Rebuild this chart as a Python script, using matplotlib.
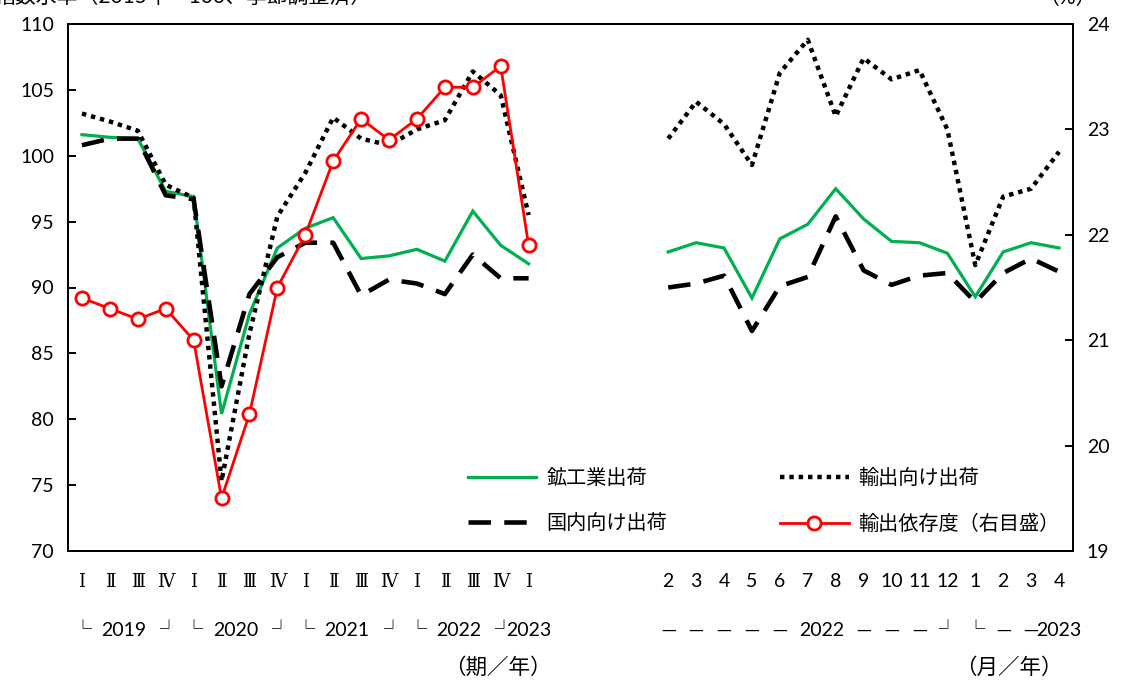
import numpy as np
import matplotlib
matplotlib.use("Agg")
import matplotlib.pyplot as plt
from matplotlib.lines import Line2D

plt.rcParams['font.family'] = ['Lato', 'Noto Sans CJK JP', 'DejaVu Sans']

# ---- data ----
quarter_labels = ['Ⅰ', 'Ⅱ', 'Ⅲ', 'Ⅳ'] * 4 + ['Ⅰ']
quarter_years = ['2019', '2020', '2021', '2022']
month_labels = ['2', '3', '4', '5', '6', '7', '8', '9', '10', '11', '12', '1', '2', '3', '4']

mining_q = [101.6, 101.4, 101.3, 97.3, 96.9, 80.4, 88.0, 93.0, 94.5, 95.3, 92.2, 92.4, 92.9, 92.0, 95.8, 93.2, 91.8]
domestic_q = [100.8, 101.3, 101.3, 97.0, 96.7, 82.5, 89.5, 92.3, 93.4, 93.4, 89.4, 90.6, 90.3, 89.5, 92.5, 90.7, 90.7]
export_q = [103.2, 102.6, 101.9, 97.8, 96.8, 75.3, 86.5, 95.4, 98.7, 102.9, 101.3, 100.8, 102.0, 102.7, 106.4, 104.6, 95.5]
ratio_q = [21.4, 21.3, 21.2, 21.3, 21.0, 19.5, 20.3, 21.5, 22.0, 22.7, 23.1, 22.9, 23.1, 23.4, 23.4, 23.6, 21.9]

mining_m = [92.7, 93.4, 93.0, 89.2, 93.7, 94.8, 97.5, 95.2, 93.5, 93.4, 92.6, 89.3, 92.7, 93.4, 93.0]
domestic_m = [90.0, 90.3, 90.9, 86.7, 90.1, 90.8, 95.4, 91.3, 90.2, 90.9, 91.1, 88.9, 91.1, 92.2, 91.2]
export_m = [101.3, 104.1, 102.4, 99.3, 106.3, 108.8, 103.0, 107.4, 105.8, 106.5, 102.0, 91.7, 96.9, 97.5, 100.3]

series_names = ['鉱工業出荷', '国内向け出荷', '輸出向け出荷', '輸出依存度（右目盛）']

# ---- layout ----
W, H = 1121, 682
fig = plt.figure(figsize=(W / 100, H / 100), dpi=100)
ax = fig.add_axes([68 / W, 1 - 551 / H, (1073 - 68) / W, (551 - 24) / H])
ax2 = ax.twinx()

n_gap = 4
xq = np.arange(len(quarter_labels))
xm = np.arange(len(month_labels)) + len(quarter_labels) + n_gap
n_total = len(quarter_labels) + n_gap + len(month_labels)

green = '#00B050'
style_mining = dict(color=green, lw=2.3, solid_joinstyle='miter')
style_dom = dict(color='black', lw=3.3, linestyle=(0, (4.9, 2.9)), dash_capstyle='butt')
style_exp = dict(color='black', lw=3.2, linestyle=(0, (1.0, 1.1)), dash_capstyle='butt')
style_ratio = dict(color='#FF0000', lw=2.0, marker='o', markersize=9.5, mfc='white', mec='#FF0000', mew=2.0)

for xs, m, d, e in [(xq, mining_q, domestic_q, export_q), (xm, mining_m, domestic_m, export_m)]:
    ax.plot(xs, m, **style_mining)
    ax.plot(xs, d, **style_dom)
    ax.plot(xs, e, **style_exp)
ax2.plot(xq, ratio_q, **style_ratio)

ax.set_xlim(-0.5, n_total - 0.5)
ax.set_ylim(70, 110)
ax.set_yticks(np.arange(70, 111, 5))
ax2.set_ylim(19, 24)
ax2.set_yticks(np.arange(19, 25, 1))

for a in (ax, ax2):
    for s in a.spines.values():
        s.set_linewidth(1.4)
        s.set_color('black')

ax.tick_params(axis='y', direction='in', length=6, width=1.4, labelsize=14, pad=10)
ax2.tick_params(axis='y', direction='in', length=6, width=1.4, labelsize=14, pad=10)

tick_labels = quarter_labels + [''] * n_gap + month_labels
ax.set_xticks(np.arange(n_total))
ax.set_xticklabels(tick_labels)
ax.tick_params(axis='x', length=0, pad=16, labelsize=14)
for i, t in enumerate(ax.get_xticklabels()):
    if i < len(quarter_labels):
        t.set_fontfamily(['DejaVu Serif', 'Noto Sans CJK JP'])
        t.set_fontsize(13)

# year row
tr = ax.get_xaxis_transform()
yrow = -0.150
bfont = ['Noto Sans CJK JP', 'DejaVu Sans']
bsize = 13
for k, yr in enumerate(quarter_years):
    x0 = 4 * k
    ax.text(x0, yrow, '└', transform=tr, ha='center', va='center', fontsize=bsize, family=bfont)
    ax.text(x0 + 1.5, yrow, yr, transform=tr, ha='center', va='center', fontsize=14)
    ax.text(x0 + 3.1, yrow, '┘', transform=tr, ha='center', va='center', fontsize=bsize, family=bfont)
ax.text(xq[-1], yrow, '2023', transform=tr, ha='center', va='center', fontsize=14)

# monthly year row
for j in range(len(month_labels)):
    xx = xm[j]
    if j in (0, 1, 2, 3, 4, 7, 8, 9, 12, 13):
        ax.text(xx, yrow, '—', transform=tr, ha='center', va='center', fontsize=12, family=bfont)
    elif j == 10:
        ax.text(xx, yrow, '┘', transform=tr, ha='center', va='center', fontsize=bsize, family=bfont)
    elif j == 11:
        ax.text(xx, yrow, '└', transform=tr, ha='center', va='center', fontsize=bsize, family=bfont)
ax.text(xm[5] + 0.5, yrow, '2022', transform=tr, ha='center', va='center', fontsize=14,
        bbox=dict(facecolor='white', edgecolor='none', pad=1))
ax.text(xm[-1], yrow, '2023', transform=tr, ha='center', va='center', fontsize=14)

# unit labels
urow = -0.222
ax.text(xq[-1] - 1.1, urow, '（期／年）', transform=tr, ha='center', va='center', fontsize=15.5)
ax.text(xm[11] + 1.2, urow, '（月／年）', transform=tr, ha='center', va='center', fontsize=15.5)

fig.text(372 / W, 1 - 8 / H, '指数水準（2015年＝100、季節調整済）', ha='right', va='bottom', fontsize=15)
fig.text(1068 / W, 1 - 8 / H, '（%）', ha='center', va='bottom', fontsize=15)

# legend
handles = [
    Line2D([], [], **style_mining),
    Line2D([], [], **style_dom),
    Line2D([], [], **style_exp),
    Line2D([], [], **style_ratio),
]
handles[3].set_markevery([1])
leg = ax2.legend(handles, series_names, ncol=2, loc='upper left',
                 bbox_to_anchor=(468 / W, 1 - 468 / H), bbox_transform=fig.transFigure,
                 frameon=False, fontsize=14.5, handlelength=3.4, handletextpad=0.5,
                 columnspacing=5.6, labelspacing=1.3, borderpad=0, borderaxespad=0)

fig.savefig('out.png', dpi=100)
